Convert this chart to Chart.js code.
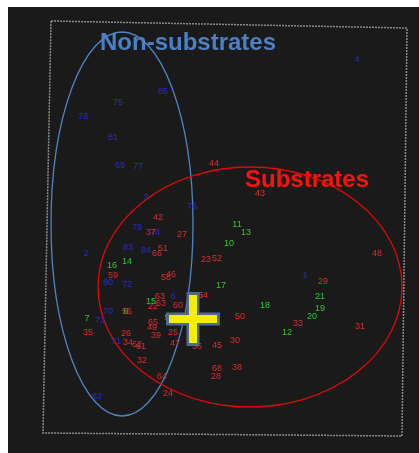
<!DOCTYPE html>
<html>
<head>
<meta charset="utf-8">
<script src="https://cdn.jsdelivr.net/npm/chart.js@4"></script>
<style>
  html, body { margin: 0; padding: 0; background: #ffffff; }
  canvas { display: block; }
</style>
</head>
<body>
<canvas id="plot" width="419" height="453"></canvas>
<script>
// score plot, x/y in plot units (y grows upwards)
// non-substrates (blue labels)
const blueIds = [4, 85, 75, 78, 81, 69, 77, 3, 76, 79, 74, 83, 84, 2, 1, 80, 72, 6, 70, 73, 71, 82];
const blueX = [35.7, 16.3, 11.8, 8.3, 11.3, 12.0, 13.8, 14.6, 19.2, 13.7, 15.5, 12.8, 14.6, 8.6, 30.5, 10.8, 12.7, 17.3, 10.8, 10.0, 11.6, 9.7];
const blueY = [39.3, 36.1, 35.0, 33.6, 31.5, 28.7, 28.6, 25.5, 24.6, 22.5, 22.0, 20.5, 20.2, 19.9, 17.7, 17.0, 16.8, 15.6, 14.1, 13.2, 11.1, 5.6];

// green labels
const greenIds = [11, 13, 10, 14, 16, 17, 21, 15, 18, 19, 8, 20, 9, 7, 12];
const greenX = [23.7, 24.6, 22.9, 12.7, 11.2, 22.1, 32.0, 15.1, 26.5, 32.0, 12.6, 31.2, 16.7, 8.7, 28.7];
const greenY = [22.8, 22.0, 20.9, 19.1, 18.7, 16.7, 15.6, 15.1, 14.7, 14.4, 14.1, 13.6, 13.5, 13.4, 12.0];

// substrates (red labels)
const redIds = [44, 43, 42, 37, 27, 51, 66, 48, 52, 23, 46, 58, 59, 29, 55, 54, 63, 53, 60, 22, 56, 50, 65, 33, 31, 49,
  35, 26, 25, 39, 30, 34, 47, 62, 45, 61, 36, 32, 38, 68, 28, 64, 24];
const redX = [21.4, 26.0, 15.8, 15.1, 18.2, 16.3, 15.7, 37.7, 21.7, 20.6, 17.1, 16.6, 11.3, 32.3, 19.8, 20.3, 16.0, 16.1, 17.8, 15.3, 12.7, 24.0, 15.3, 29.8, 36.0, 15.2,
  8.8, 12.6, 17.3, 15.6, 23.5, 12.8, 17.5, 13.7, 21.7, 14.1, 19.7, 14.2, 23.7, 21.7, 21.6, 16.2, 16.8];
const redY = [28.9, 25.9, 23.5, 22.0, 21.8, 20.4, 19.9, 19.9, 19.4, 19.3, 17.8, 17.5, 17.7, 17.1, 15.7, 15.7, 15.6, 14.9, 14.7, 14.6, 14.1, 13.6, 13.0, 12.9, 12.6, 12.5,
  12.0, 11.9, 12.0, 11.7, 11.2, 11.0, 10.9, 10.8, 10.7, 10.6, 10.6, 9.2, 8.5, 8.4, 7.6, 7.6, 5.9];

// marker for the query compound
const crossX = [19.3];
const crossY = [13.4];

// group ellipses: [centre x, centre y, radius x, radius y]
const nonSubEllipse = [12.2, 22.9, 7.1, 19.2];
const subEllipse = [25.0, 16.6, 15.2, 12.0];

// group names and where they sit
const groupNames = ['Non-substrates', 'Substrates'];
const groupNameX = [10.0, 24.5];
const groupNameY = [41.0, 27.3];

// dashed frame corners
const frameX = [5.1, 40.7, 40.2, 4.3];
const frameY = [43.2, 42.5, 1.7, 2.0];

const toPoints = (xs, ys) => xs.map((x, i) => ({ x: x, y: ys[i] }));

const labelSets = [
  { ids: blueIds, x: blueX, y: blueY, color: '#2a2ad2' },
  { ids: greenIds, x: greenX, y: greenY, color: '#30c830' },
  { ids: redIds, x: redX, y: redY, color: '#dc2c2c' }
];

const background = {
  id: 'background',
  beforeDraw(chart) {
    const ctx = chart.ctx;
    ctx.save();
    ctx.fillStyle = '#ffffff';
    ctx.fillRect(0, 0, chart.width, chart.height);
    ctx.fillStyle = '#1a1a1a';
    ctx.fillRect(8, 7, chart.width - 8, chart.height - 7);
    ctx.restore();
  }
};

// frame, group names, ellipses and the numbered labels, all under the cross
const decorations = {
  id: 'decorations',
  beforeDatasetsDraw(chart) {
    const ctx = chart.ctx;
    const xs = chart.scales.x;
    const ys = chart.scales.y;
    ctx.save();

    ctx.strokeStyle = '#8c8c8c';
    ctx.lineWidth = 1.5;
    ctx.setLineDash([2, 1]);
    ctx.beginPath();
    frameX.forEach((fx, i) => {
      const px = xs.getPixelForValue(fx);
      const py = ys.getPixelForValue(frameY[i]);
      if (i === 0) ctx.moveTo(px, py); else ctx.lineTo(px, py);
    });
    ctx.closePath();
    ctx.stroke();
    ctx.setLineDash([]);

    ctx.font = 'bold 24px "Liberation Sans", Arial, sans-serif';
    ctx.textAlign = 'left';
    ctx.textBaseline = 'middle';
    const nameColors = ['#4a80c4', '#ff1010'];
    groupNames.forEach((name, i) => {
      ctx.fillStyle = nameColors[i];
      ctx.fillText(name, xs.getPixelForValue(groupNameX[i]), ys.getPixelForValue(groupNameY[i]));
    });

    const drawEllipse = (e, color) => {
      const cx = xs.getPixelForValue(e[0]);
      const cy = ys.getPixelForValue(e[1]);
      const rx = Math.abs(xs.getPixelForValue(e[0] + e[2]) - cx);
      const ry = Math.abs(ys.getPixelForValue(e[1] + e[3]) - cy);
      ctx.strokeStyle = color;
      ctx.lineWidth = 1.3;
      ctx.beginPath();
      ctx.ellipse(cx, cy, rx, ry, 0, 0, Math.PI * 2);
      ctx.stroke();
    };
    drawEllipse(nonSubEllipse, '#4d84c6');
    drawEllipse(subEllipse, '#e00808');

    ctx.font = '9px "Liberation Sans", Arial, sans-serif';
    ctx.textAlign = 'center';
    labelSets.forEach((set, d) => {
      const meta = chart.getDatasetMeta(d + 2);
      ctx.fillStyle = set.color;
      meta.data.forEach((pt, i) => {
        ctx.fillText(String(set.ids[i]), pt.x, pt.y);
      });
    });
    ctx.restore();
  }
};

new Chart(document.getElementById('plot'), {
  type: 'scatter',
  data: {
    datasets: [
      {
        label: 'query',
        data: toPoints(crossX, crossY),
        pointStyle: 'cross',
        pointRadius: 24,
        borderWidth: 8,
        borderColor: '#f5ee00',
        order: 0
      },
      {
        label: 'query outline',
        data: toPoints(crossX, crossY),
        pointStyle: 'cross',
        pointRadius: 27,
        borderWidth: 13,
        borderColor: '#4f6a8c',
        order: 1
      },
      ...labelSets.map((set, i) => ({
        label: 'labels ' + i,
        data: toPoints(set.x, set.y),
        pointRadius: 0,
        order: 2 + i
      }))
    ]
  },
  options: {
    responsive: false,
    animation: false,
    devicePixelRatio: 1,
    layout: { padding: 0, autoPadding: false },
    scales: {
      x: { type: 'linear', min: 0, max: 41.9, display: false },
      y: { type: 'linear', min: 0, max: 45.3, display: false }
    },
    plugins: {
      legend: { display: false },
      tooltip: { enabled: false }
    }
  },
  plugins: [background, decorations]
});
</script>
</body>
</html>
